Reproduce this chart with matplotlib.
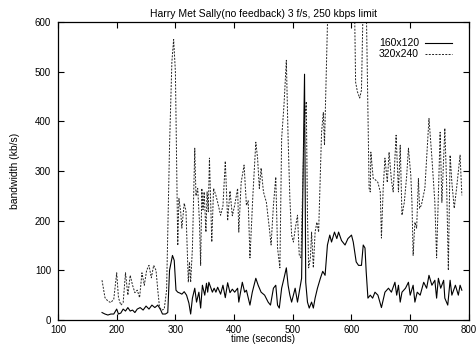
import matplotlib
matplotlib.use("Agg")
import matplotlib.pyplot as plt

# 160x120 stream (solid)
t_small = [175, 180, 185, 190, 195, 200, 203, 207, 211, 215, 219, 223, 227, 231, 235, 240, 245, 250, 255, 260,
           265, 270, 275, 278, 283, 287, 290, 295, 298, 301, 304, 308, 311, 315, 319, 323, 326, 329, 333, 336,
           340, 343, 346, 350, 353, 355, 357, 363, 366, 369, 372, 377, 381, 385, 389, 393, 397, 401, 406, 408,
           414, 418, 421, 427, 431, 437, 441, 446, 452, 458, 462, 467, 471, 474, 477, 481, 485, 489, 492, 495,
           498, 504, 508, 512, 515, 520, 522, 525, 528, 532, 535, 538, 542, 547, 551, 555, 559, 563, 566, 571,
           575, 578, 583, 589, 594, 600, 603, 608, 612, 617, 620, 623, 625, 628, 632, 636, 640, 645, 651, 657,
           663, 668, 674, 677, 680, 683, 686, 692, 697, 700, 705, 708, 712, 717, 723, 728, 732, 737, 742, 745,
           748, 752, 757, 759, 764, 768, 771, 777, 782, 785, 788]
v_small = [15, 12, 10, 12, 12, 22, 12, 14, 22, 18, 25, 18, 20, 15, 22, 25, 20, 28, 22, 30,
           25, 30, 20, 12, 12, 15, 100, 130, 120, 60, 56, 54, 52, 57, 50, 34, 12, 44, 64, 36,
           56, 24, 70, 50, 74, 56, 76, 56, 64, 56, 66, 52, 70, 45, 75, 55, 62, 56, 64, 36,
           76, 56, 60, 30, 56, 84, 70, 56, 50, 36, 30, 64, 70, 30, 24, 64, 84, 105, 70, 50,
           36, 64, 36, 64, 84, 495, 76, 36, 24, 36, 24, 44, 64, 84, 98, 90, 151, 171, 157, 177,
           164, 177, 160, 151, 164, 171, 157, 117, 110, 110, 151, 145, 98, 44, 50, 44, 56, 50, 25, 56,
           64, 56, 76, 50, 70, 36, 56, 64, 76, 50, 70, 36, 56, 50, 76, 64, 90, 70, 80, 44,
           84, 64, 80, 44, 30, 80, 50, 70, 50, 70, 60]

# 320x240 stream (dashed)
t_large = [175, 180, 185, 190, 195, 200, 203, 207, 211, 215, 219, 223, 227, 231, 235, 239, 243, 247, 251, 255,
           259, 263, 267, 270, 273, 277, 281, 285, 290, 294, 297, 300, 304, 306, 309, 311, 315, 318, 322, 324,
           326, 329, 333, 335, 338, 341, 343, 345, 347, 349, 352, 354, 356, 358, 362, 365, 369, 372, 377, 381,
           385, 389, 393, 397, 401, 406, 408, 412, 417, 421, 424, 427, 432, 437, 440, 443, 446, 450, 455, 460,
           463, 467, 471, 474, 478, 481, 485, 489, 492, 495, 498, 501, 505, 508, 511, 514, 517, 520, 523, 525,
           527, 530, 532, 535, 538, 541, 544, 547, 549, 552, 554, 556, 559, 562, 605, 607, 610, 614, 617, 620,
           625, 630, 632, 633, 637, 641, 645, 649, 651, 654, 657, 661, 664, 668, 671, 676, 680, 683, 686, 690,
           694, 697, 701, 703, 705, 708, 711, 714, 716, 719, 725, 732, 737, 742, 745, 751, 754, 759, 762, 765,
           768, 771, 775, 779, 785, 788]
v_large = [80, 45, 38, 35, 42, 95, 45, 30, 35, 95, 50, 90, 70, 55, 60, 45, 95, 70, 100, 110,
           85, 110, 100, 60, 25, 20, 22, 60, 350, 520, 565, 500, 150, 245, 218, 185, 235, 220, 76, 117,
           76, 145, 346, 250, 265, 197, 110, 265, 222, 258, 177, 258, 218, 326, 157, 265, 251, 237, 211, 230,
           320, 200, 260, 210, 231, 265, 177, 277, 312, 231, 240, 125, 251, 358, 326, 265, 306, 258, 237, 185,
           151, 231, 288, 145, 105, 366, 433, 523, 366, 245, 171, 157, 190, 211, 131, 125, 277, 400, 440, 211,
           105, 125, 177, 105, 177, 197, 177, 298, 378, 418, 352, 447, 594, 650, 650, 479, 460, 447, 463, 650,
           650, 265, 258, 338, 285, 282, 277, 258, 165, 265, 326, 277, 338, 282, 258, 372, 258, 352, 211, 237,
           290, 346, 292, 237, 130, 197, 185, 285, 225, 231, 265, 406, 326, 237, 125, 378, 237, 386, 277, 100,
           332, 277, 225, 265, 332, 251]

plt.rcParams['font.family'] = ['Liberation Sans', 'DejaVu Sans']

fig = plt.figure(figsize=(4.77, 3.45), dpi=100)
ax = fig.add_axes([0.1216, 0.0725, 0.8614, 0.8635])

ax.plot(t_small, v_small, color='black', lw=0.8, label='160x120')
ax.plot(t_large, v_large, color='#222222', lw=0.7, ls=(0, (2.0, 1.4)), label='320x240')

ax.set_xlim(100, 800)
ax.set_ylim(0, 600)
ax.set_xticks(range(100, 801, 100))
ax.set_yticks(range(0, 601, 100))
ax.tick_params(direction='in', top=True, right=True, length=4, width=0.8, labelsize=7)
ax.tick_params(axis='x', pad=3.5)
ax.tick_params(axis='y', pad=5)
for s in ax.spines.values():
    s.set_linewidth(0.9)

ax.set_title('Harry Met Sally(no feedback) 3 f/s, 250 kbps limit', fontsize=7.5, pad=4)
ax.set_xlabel('time (seconds)', fontsize=7, labelpad=-0.5)
ax.set_ylabel('bandwidth (kb/s)', fontsize=7.5, labelpad=11)

ax.legend(loc='upper right', frameon=False, markerfirst=False, fontsize=7.5,
          handlelength=2.6, handletextpad=0.6, labelspacing=0.1, borderaxespad=0.6,
          bbox_to_anchor=(0.985, 0.98))

fig.savefig('out.png', dpi=100)
